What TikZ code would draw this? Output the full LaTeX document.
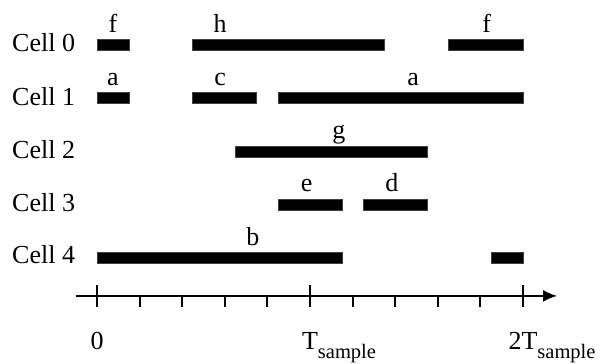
\documentclass[tikz,border=0pt]{standalone}
\usepackage{fontspec}
\setmainfont{Liberation Serif}
\usetikzlibrary{arrows.meta}
\newcommand{\slotBar}[3]{\filldraw[slotbar] (#2,#1-0.129) rectangle (#3,#1+0.129);}
\newcommand{\tSub}[1]{\rlap{\raisebox{-4.5pt}{\fontsize{10.25}{12}\selectfont #1}}}

\begin{document}
\begin{tikzpicture}[x=21.3pt,y=-21.3pt,
  every node/.style={anchor=base, inner sep=0pt, font=\fontsize{13}{15}\selectfont},
  slotbar/.style={fill=black, draw=black!75, line width=0.4pt},
  axisline/.style={line width=1pt}]
\useasboundingbox (-2.277,-1.056) rectangle (11.901,7.465);
% row labels
\node[anchor=base west] (cell0) at (-2,0.16) {Cell 0};
\node[anchor=base west] (cell1) at (-2,1.41) {Cell 1};
\node[anchor=base west] (cell2) at (-2,2.66) {Cell 2};
\node[anchor=base west] (cell3) at (-2,3.91) {Cell 3};
\node[anchor=base west] (cell4) at (-2,5.14) {Cell 4};
% occupied slots
\slotBar{0}{0}{0.75}
\slotBar{0}{2.25}{6.75}
\slotBar{0}{8.25}{10}
\slotBar{1.25}{0}{0.75}
\slotBar{1.25}{2.25}{3.75}
\slotBar{1.25}{4.25}{10}
\slotBar{2.5}{3.25}{7.75}
\slotBar{3.75}{4.25}{5.75}
\slotBar{3.75}{6.25}{7.75}
\slotBar{5}{0}{5.75}
\slotBar{5}{9.25}{10}
% slot letters
\node (f0) at (0.375,-0.3) {f};
\node (h0) at (2.89,-0.3) {h};
\node (f1) at (9.15,-0.3) {f};
\node (a0) at (0.375,0.95) {a};
\node (c0) at (2.89,0.95) {c};
\node (a1) at (7.42,0.95) {a};
\node (g0) at (5.68,2.2) {g};
\node (e0) at (4.92,3.45) {e};
\node (d0) at (6.92,3.45) {d};
\node (b0) at (3.66,4.7) {b};
% time axis
\coordinate (tstart) at (-0.5,5.89);
\coordinate (tend) at (10.8,5.89);
\draw[axisline, -{Latex[length=7pt,width=6pt]}] (tstart) -- (tend);
\foreach \t in {1,2,3,4,6,7,8,9}
  \draw[axisline] (\t,5.89) -- (\t,6.15);
\foreach \t in {0,5,10}
  \draw[axisline] (\t,5.63) -- (\t,6.15);
\node (zero) at (0,7.14) {0};
\node (tone) at (5,7.14) {T\tSub{sample}};
\node (ttwo) at (10,7.14) {2T\tSub{sample}};
\end{tikzpicture}
\end{document}
